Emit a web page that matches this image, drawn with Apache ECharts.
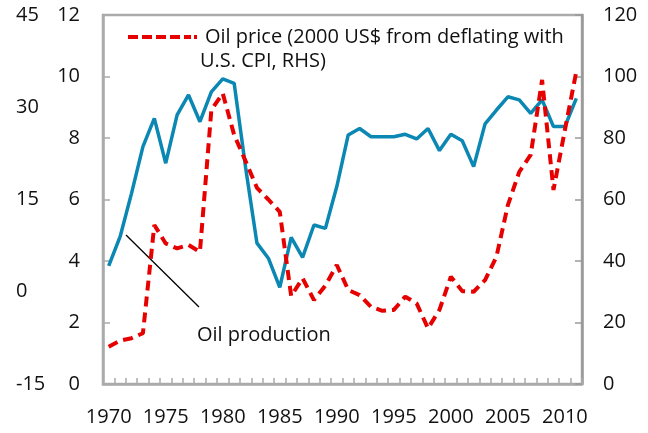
<!DOCTYPE html>
<html>
<head>
<meta charset="utf-8">
<script src="https://cdn.jsdelivr.net/npm/echarts@6/dist/echarts.min.js"></script>
<style>
html,body{margin:0;padding:0;background:#fff;}
#chart{width:648px;height:433px;}
</style>
</head>
<body>
<div id="chart"></div>
<script>
var years = [];
for (var y = 1970; y <= 2011; y++) years.push(String(y));

var oilProduction = [3.84, 4.79, 6.2, 7.72, 8.64, 7.18, 8.75, 9.4, 8.53, 9.5,
  9.92, 9.78, 7.05, 4.58, 4.09, 3.14, 4.77, 4.12, 5.17, 5.06,
  6.42, 8.1, 8.31, 8.04, 8.04, 8.04, 8.12, 7.97, 8.31, 7.59,
  8.12, 7.91, 7.07, 8.46, 8.91, 9.34, 9.24, 8.8, 9.24, 8.37,
  8.37, 9.29];

var oilPrice = [12.1, 14.1, 14.9, 16.5, 51.7, 45.7, 44.1, 45.2, 43.0, 89.1,
  94.5, 81.0, 72.5, 63.8, 60.0, 56.0, 28.6, 34.4, 27.3, 32.0,
  38.7, 30.6, 28.9, 25.1, 23.8, 24.1, 28.4, 26.2, 18.1, 24.1,
  34.9, 30.2, 30.0, 33.8, 41.4, 58.2, 69.0, 74.5, 98.9, 63.1,
  82.6, 101.6];

var outerLeftTicks = {min: -15, max: 45, interval: 15};
var innerLeftTicks = {min: 0, max: 12, interval: 2};
var rightTicks = {min: 0, max: 120, interval: 20};

var priceName = 'Oil price (2000 US$ from deflating with U.S. CPI, RHS)';
var legendLine1 = 'Oil price (2000 US$ from deflating with';
var legendLine2 = 'U.S. CPI, RHS)';
var annotationText = 'Oil production';

var FONT = 'Open Sans';
var FS = 20;
var axisGray = '#ababab';
var RED = '#e60000';
var BLUE = '#0b87b3';

var dashIcon = 'path://M0,0H10V4H0Z M14,0H24V4H14Z M28,0H38V4H28Z M42,0H52V4H42Z M56,0H63V4H56Z M66,0H69V4H66Z';

var chart = echarts.init(document.getElementById('chart'), null, {renderer: 'canvas'});
chart.setOption({
  animation: false,
  backgroundColor: '#fff',
  textStyle: {fontFamily: FONT},
  grid: {left: 103, right: 66, top: 15, bottom: 49, show: true, borderColor: axisGray, borderWidth: 2.5, containLabel: false},
  legend: {
    left: 123, top: 22, itemWidth: 69, itemHeight: 4, itemGap: 8,
    data: [{name: priceName, icon: dashIcon, itemStyle: {color: RED}}],
    formatter: function () { return legendLine1; },
    textStyle: {fontFamily: FONT, fontSize: FS, color: '#111', padding: [0, 0, 0, 3]}
  },
  xAxis: {
    type: 'category', data: years, boundaryGap: true,
    axisLine: {show: true, lineStyle: {color: axisGray, width: 2.5}},
    axisTick: {show: true, inside: true, length: 6, interval: 0, lineStyle: {color: axisGray, width: 1.5}},
    axisLabel: {interval: 4, margin: 23, fontFamily: FONT, fontSize: FS, color: '#111'},
    splitLine: {show: false}
  },
  yAxis: [
    {
      type: 'value', position: 'left', min: innerLeftTicks.min, max: innerLeftTicks.max, interval: innerLeftTicks.interval,
      axisLine: {show: true, lineStyle: {color: axisGray, width: 2.5}},
      axisTick: {show: true, inside: true, length: 7, lineStyle: {color: axisGray, width: 1.5}},
      axisLabel: {margin: 23, fontFamily: FONT, fontSize: FS, color: '#111'},
      splitLine: {show: false}
    },
    {
      type: 'value', position: 'right', min: rightTicks.min, max: rightTicks.max, interval: rightTicks.interval,
      axisLine: {show: true, lineStyle: {color: '#999', width: 2.5}},
      axisTick: {show: true, inside: true, length: 7, lineStyle: {color: '#999', width: 1.5}},
      axisLabel: {margin: 21, fontFamily: FONT, fontSize: FS, color: '#111'},
      splitLine: {show: false}
    },
    {
      type: 'value', position: 'left', offset: 70, min: outerLeftTicks.min, max: outerLeftTicks.max, interval: outerLeftTicks.interval,
      axisLine: {show: false}, axisTick: {show: false},
      axisLabel: {margin: 17, align: 'left', fontFamily: FONT, fontSize: FS, color: '#111'},
      splitLine: {show: false}
    }
  ],
  series: [
    {
      name: 'Oil production', type: 'line', yAxisIndex: 0, data: oilProduction,
      symbol: 'none', lineStyle: {color: BLUE, width: 3.5}, itemStyle: {color: BLUE}, z: 3
    },
    {
      name: priceName, type: 'line', yAxisIndex: 1, data: oilPrice,
      symbol: 'none', lineStyle: {color: RED, width: 4, type: [10, 6]}, itemStyle: {color: RED}, z: 4
    }
  ],
  graphic: [
    {type: 'text', left: 200, top: 51, style: {text: legendLine2, font: FS + 'px "' + FONT + '"', fill: '#111'}},
    {type: 'line', shape: {x1: 126, y1: 235, x2: 199, y2: 307}, style: {stroke: '#000', lineWidth: 1.3}},
    {type: 'text', left: 197, top: 325, style: {text: annotationText, font: FS + 'px "' + FONT + '"', fill: '#111'}}
  ]
});
</script>
</body>
</html>
